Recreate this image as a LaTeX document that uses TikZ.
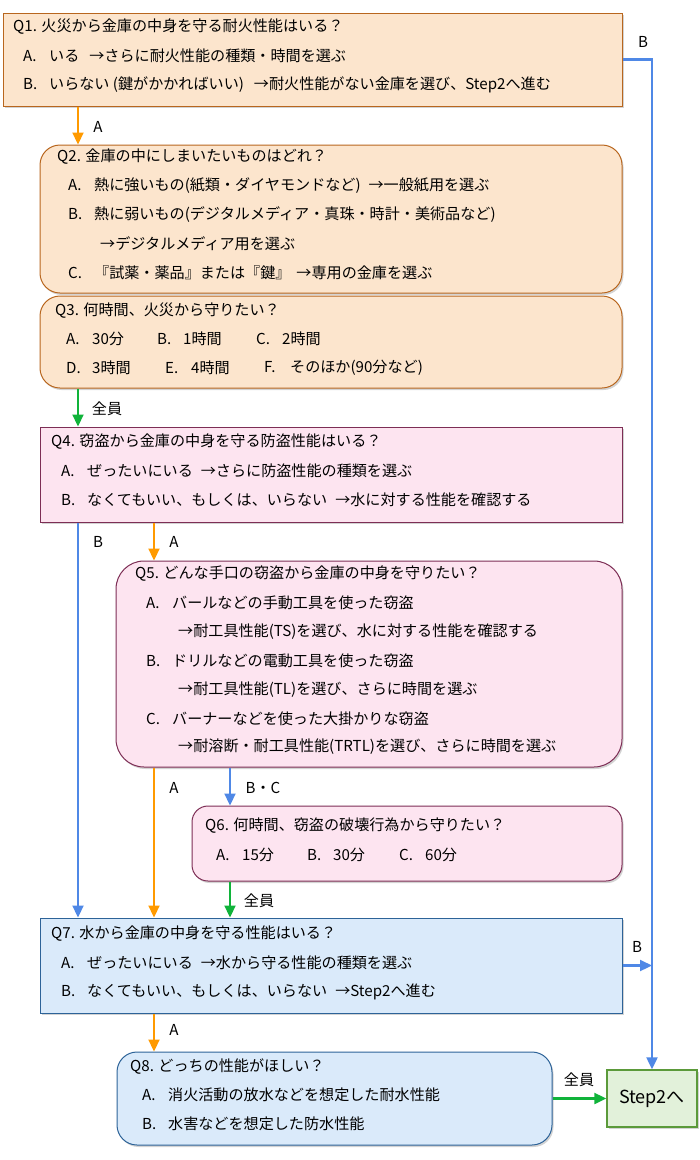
\documentclass[tikz,border=0pt]{standalone}
\usepackage{fontspec}
\newfontfamily\jpf{Noto Sans CJK JP}
\usetikzlibrary{arrows.meta,shadows}
\definecolor{peachF}{HTML}{FCE5CD}
\definecolor{peachD}{HTML}{B8661E}
\definecolor{pinkF}{HTML}{FDE4F0}
\definecolor{pinkD}{HTML}{7D2E55}
\definecolor{blueF}{HTML}{DAEAFA}
\definecolor{blueD}{HTML}{2D6398}
\definecolor{greenF}{HTML}{E2F1DA}
\definecolor{greenD}{HTML}{5B9A3A}
\definecolor{arrO}{HTML}{FF9A00}
\definecolor{arrG}{HTML}{10B33A}
\definecolor{arrB}{HTML}{4F88E6}
\newcommand{\myans}[2]{\makebox[26pt][l]{#1}#2}
\tikzset{
  qbox/.style={rectangle, line width=1pt, inner sep=0pt,
    drop shadow={opacity=0.35, shadow xshift=1.5pt, shadow yshift=-2pt}},
  peach/.style={qbox, fill=peachF, draw=peachD},
  pink/.style={qbox, fill=pinkF, draw=pinkD},
  bluebox/.style={qbox, fill=blueF, draw=blueD},
  txt/.style={anchor=west, inner sep=0pt, font=\jpf\fontsize{15.1}{18}\selectfont},
  lbl/.style={inner sep=0pt, font=\jpf\fontsize{15.1}{18}\selectfont},
  conn/.style={line width=2.2pt, -{Triangle[length=12pt,width=11pt]}},
  oarr/.style={conn, draw=arrO},
  garr/.style={conn, draw=arrG},
  barr/.style={conn, draw=arrB},
}
\begin{document}
\begin{tikzpicture}[x=1pt,y=-1pt]
\useasboundingbox (0,0) rectangle (700,1160);
% columns
\coordinate (c1) at (78,0);
\coordinate (c2) at (154,0);
\coordinate (c3) at (230,0);
% boxes
\node[peach, minimum width=619pt, minimum height=93pt] (Q1) at (312.5,59.5) {};
\node[peach, rounded corners=20pt, minimum width=582pt, minimum height=148pt] (Q2) at (331,219) {};
\node[peach, rounded corners=20pt, minimum width=582pt, minimum height=92pt] (Q3) at (331,342) {};
\node[pink, minimum width=582pt, minimum height=95pt] (Q4) at (331,474.5) {};
\node[pink, rounded corners=28pt, minimum width=506pt, minimum height=206pt] (Q5) at (369,664) {};
\node[pink, rounded corners=16pt, minimum width=430pt, minimum height=75pt] (Q6) at (407,843.5) {};
\node[bluebox, minimum width=582pt, minimum height=95pt] (Q7) at (331,965.5) {};
\node[bluebox, rounded corners=20pt, minimum width=435pt, minimum height=93pt] (Q8) at (334.5,1098.5) {};
\node[qbox, fill=greenF, draw=greenD, line width=1.4pt, minimum width=90pt, minimum height=57pt,
  font=\jpf\fontsize{18}{21}\selectfont] (S2) at (652,1098.5) {Step2へ};
% Q1 texts
\node[txt] (t11) at (13,27) {Q1. 火災から金庫の中身を守る耐火性能はいる？};
\node[txt] (t12) at (23,56) {\myans{A.}{いる\hspace{10pt}→さらに耐火性能の種類・時間を選ぶ}};
\node[txt] (t13) at (23,85) {\myans{B.}{いらない (鍵がかかればいい)\hspace{10pt}→耐火性能がない金庫を選び、Step2へ進む}};
% Q2 texts
\node[txt] (t21) at (57,157) {Q2. 金庫の中にしまいたいものはどれ？};
\node[txt] (t22) at (68,186) {\myans{A.}{熱に強いもの(紙類・ダイヤモンドなど)\hspace{8pt}→一般紙用を選ぶ}};
\node[txt] (t23) at (68,215) {\myans{B.}{熱に弱いもの(デジタルメディア・真珠・時計・美術品など)}};
\node[txt] (t24) at (100,244) {→デジタルメディア用を選ぶ};
\node[txt] (t25) at (68,273) {\myans{C.}{『試薬・薬品』または『鍵』\hspace{6pt}→専用の金庫を選ぶ}};
% Q3 texts
\node[txt] (t31) at (55,311) {Q3. 何時間、火災から守りたい？};
\node[txt] (t32) at (66,339) {\myans{A.}{30分}};
\node[txt] (t33) at (157,339) {\myans{B.}{1時間}};
\node[txt] (t34) at (256,339) {\myans{C.}{2時間}};
\node[txt] (t35) at (66,368) {\myans{D.}{3時間}};
\node[txt] (t36) at (165,368) {\myans{E.}{4時間}};
\node[txt] (t37) at (264,368) {\myans{F.}{そのほか(90分など)}};
% Q4 texts
\node[txt] (t41) at (51,442) {Q4. 窃盗から金庫の中身を守る防盗性能はいる？};
\node[txt] (t42) at (61,471) {\myans{A.}{ぜったいにいる\hspace{8pt}→さらに防盗性能の種類を選ぶ}};
\node[txt] (t43) at (61,500) {\myans{B.}{なくてもいい、もしくは、いらない\hspace{8pt}→水に対する性能を確認する}};
% Q5 texts
\node[txt] (t51) at (135,574) {Q5. どんな手口の窃盗から金庫の中身を守りたい？};
\node[txt] (t52) at (146,603) {\myans{A.}{バールなどの手動工具を使った窃盗}};
\node[txt] (t53) at (178,632) {→耐工具性能(TS)を選び、水に対する性能を確認する};
\node[txt] (t54) at (146,661) {\myans{B.}{ドリルなどの電動工具を使った窃盗}};
\node[txt] (t55) at (178,690) {→耐工具性能(TL)を選び、さらに時間を選ぶ};
\node[txt] (t56) at (146,719) {\myans{C.}{バーナーなどを使った大掛かりな窃盗}};
\node[txt] (t57) at (178,747) {→耐溶断・耐工具性能(TRTL)を選び、さらに時間を選ぶ};
% Q6 texts
\node[txt] (t61) at (205,826) {Q6. 何時間、窃盗の破壊行為から守りたい？};
\node[txt] (t62) at (216,855) {\myans{A.}{15分}};
\node[txt] (t63) at (307,855) {\myans{B.}{30分}};
\node[txt] (t64) at (399,855) {\myans{C.}{60分}};
% Q7 texts
\node[txt] (t71) at (51,934) {Q7. 水から金庫の中身を守る性能はいる？};
\node[txt] (t72) at (61,963) {\myans{A.}{ぜったいにいる\hspace{8pt}→水から守る性能の種類を選ぶ}};
\node[txt] (t73) at (61,992) {\myans{B.}{なくてもいい、もしくは、いらない\hspace{8pt}→Step2へ進む}};
% Q8 texts
\node[txt] (t81) at (130,1066) {Q8. どっちの性能がほしい？};
\node[txt] (t82) at (142,1095) {\myans{A.}{消火活動の放水などを想定した耐水性能}};
\node[txt] (t83) at (142,1124) {\myans{B.}{水害などを想定した防水性能}};
% connectors
\draw[oarr] (Q1.south -| c1) -- (Q2.north -| c1);
\draw[barr] (Q1.east) -| (S2.north);
\draw[garr] (Q3.south -| c1) -- (Q4.north -| c1);
\draw[barr] (Q4.south -| c1) -- (Q7.north -| c1);
\draw[oarr] (Q4.south -| c2) -- (Q5.north -| c2);
\draw[oarr] (Q5.south -| c2) -- (Q7.north -| c2);
\draw[barr] (Q5.south -| c3) -- (Q6.north -| c3);
\draw[garr] (Q6.south -| c3) -- (Q7.north -| c3);
\draw[barr] (Q7.east) -- (Q7.east -| S2.north);
\draw[oarr] (Q7.south -| c2) -- (Q8.north -| c2);
\draw[garr] (Q8.east) -- (S2.west);
% labels
\node[lbl] (l1) at (98,127) {A};
\node[lbl] (l2) at (643,42) {B};
\node[lbl] (l3) at (107,409) {全員};
\node[lbl] (l4) at (98,542) {B};
\node[lbl] (l5) at (174,542) {A};
\node[lbl] (l6) at (174,788) {A};
\node[lbl] (l7) at (263,788) {B・C};
\node[lbl] (l8) at (259,901) {全員};
\node[lbl] (l9) at (637,947) {B};
\node[lbl] (l10) at (174,1030) {A};
\node[lbl] (l11) at (579,1080) {全員};
\end{tikzpicture}
\end{document}
